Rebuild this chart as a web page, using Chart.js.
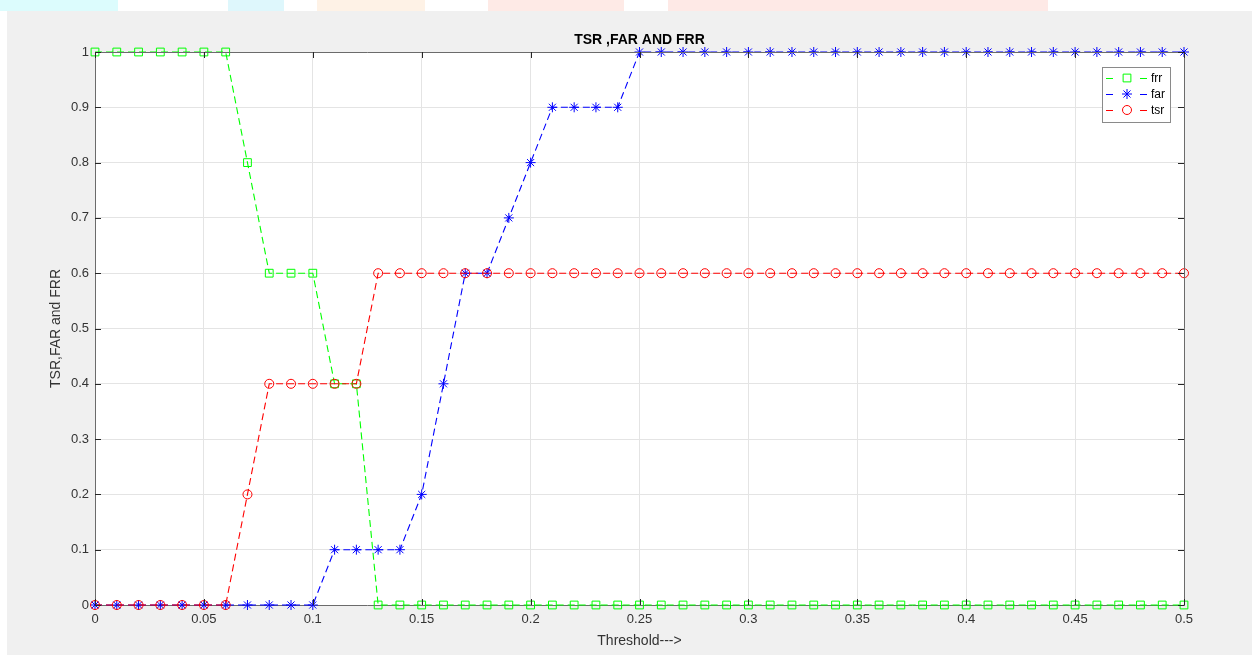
<!DOCTYPE html>
<html>
<head>
<meta charset="utf-8">
<script src="https://cdn.jsdelivr.net/npm/chart.js@4/dist/chart.umd.min.js"></script>
<style>
  html, body { margin: 0; padding: 0; background: #ffffff; }
  #wrap { position: relative; width: 1252px; height: 655px; overflow: hidden; }
  .tint { position: absolute; top: 0; height: 11px; }
  #panel { position: absolute; left: 7px; top: 11px; right: 0; bottom: 0; background: #f0f0f0; }
  canvas { position: absolute; left: 0; top: 0; }
</style>
</head>
<body>
<div id="wrap">
  <div class="tint" style="left:0;width:118px;background:#dcfcfd;"></div>
  <div class="tint" style="left:228px;width:56px;background:#def7fc;"></div>
  <div class="tint" style="left:317px;width:108px;background:#fef2e6;"></div>
  <div class="tint" style="left:488px;width:136px;background:#feeae6;"></div>
  <div class="tint" style="left:668px;width:380px;background:#fee9e6;"></div>
  <div id="panel"></div>
  <canvas id="c" width="1252" height="655"></canvas>
</div>
<script>
// Threshold values (x axis)
const thresholds = [0, 0.01, 0.02, 0.03, 0.04, 0.05, 0.06, 0.07, 0.08, 0.09,
  0.10, 0.11, 0.12, 0.13, 0.14, 0.15, 0.16, 0.17, 0.18, 0.19,
  0.20, 0.21, 0.22, 0.23, 0.24, 0.25, 0.26, 0.27, 0.28, 0.29,
  0.30, 0.31, 0.32, 0.33, 0.34, 0.35, 0.36, 0.37, 0.38, 0.39,
  0.40, 0.41, 0.42, 0.43, 0.44, 0.45, 0.46, 0.47, 0.48, 0.49, 0.50];

// False rejection rate
const frr = [1, 1, 1, 1, 1, 1, 1, 0.8, 0.6, 0.6,
  0.6, 0.4, 0.4, 0, 0, 0, 0, 0, 0, 0,
  0, 0, 0, 0, 0, 0, 0, 0, 0, 0,
  0, 0, 0, 0, 0, 0, 0, 0, 0, 0,
  0, 0, 0, 0, 0, 0, 0, 0, 0, 0, 0];

// False acceptance rate
const far = [0, 0, 0, 0, 0, 0, 0, 0, 0, 0,
  0, 0.1, 0.1, 0.1, 0.1, 0.2, 0.4, 0.6, 0.6, 0.7,
  0.8, 0.9, 0.9, 0.9, 0.9, 1, 1, 1, 1, 1,
  1, 1, 1, 1, 1, 1, 1, 1, 1, 1,
  1, 1, 1, 1, 1, 1, 1, 1, 1, 1, 1];

// True success rate
const tsr = [0, 0, 0, 0, 0, 0, 0, 0.2, 0.4, 0.4,
  0.4, 0.4, 0.4, 0.6, 0.6, 0.6, 0.6, 0.6, 0.6, 0.6,
  0.6, 0.6, 0.6, 0.6, 0.6, 0.6, 0.6, 0.6, 0.6, 0.6,
  0.6, 0.6, 0.6, 0.6, 0.6, 0.6, 0.6, 0.6, 0.6, 0.6,
  0.6, 0.6, 0.6, 0.6, 0.6, 0.6, 0.6, 0.6, 0.6, 0.6, 0.6];

const xTickStep = 0.05;
const yTickStep = 0.1;
const titleText = 'TSR ,FAR AND FRR';
const xTitle = 'Threshold--->';
const yTitle = 'TSR,FAR and FRR';
const seriesNames = ['frr', 'far', 'tsr'];

const FONT = "'Liberation Sans', Arial, Helvetica, sans-serif";
const AXIS_COLOR = '#6b6b6b';
const TEXT_COLOR = '#333333';

const toPoints = ys => thresholds.map((x, i) => ({ x: x, y: ys[i] }));

const styles = [
  { color: '#00ff00', pointStyle: 'rect', radius: 5.5 },
  { color: '#0000ff', pointStyle: 'star', radius: 5 },
  { color: '#ff0000', pointStyle: 'circle', radius: 4.5 }
];
const seriesData = [frr, far, tsr];

const datasets = seriesData.map((ys, i) => ({
  label: seriesNames[i],
  data: toPoints(ys),
  borderColor: styles[i].color,
  borderWidth: 1.1,
  borderDash: [7, 4],
  pointStyle: styles[i].pointStyle,
  pointRadius: styles[i].radius,
  pointHoverRadius: styles[i].radius,
  pointBorderColor: styles[i].color,
  pointBackgroundColor: 'rgba(0,0,0,0)',
  pointBorderWidth: 1,
  tension: 0,
  clip: false,
  order: 3 - i
}));

// White plot background
const plotBackground = {
  id: 'plotBackground',
  beforeDraw(chart) {
    const { ctx, chartArea: a } = chart;
    ctx.save();
    ctx.fillStyle = '#ffffff';
    ctx.fillRect(a.left, a.top, a.right - a.left, a.bottom - a.top);
    ctx.restore();
  }
};

// Box outline, inward tick marks, title and legend
const decorations = {
  id: 'decorations',
  afterDatasetsDraw(chart) {
    const { ctx, chartArea: a, scales } = chart;
    ctx.save();
    ctx.strokeStyle = AXIS_COLOR;
    ctx.lineWidth = 1;
    ctx.beginPath();
    ctx.moveTo(a.left, a.top + 0.5);
    ctx.lineTo(a.right + 0.5, a.top + 0.5);
    ctx.lineTo(a.right + 0.5, a.bottom);
    ctx.stroke();

    const tl = 6;
    ctx.beginPath();
    scales.x.ticks.forEach(t => {
      const px = Math.round(scales.x.getPixelForValue(t.value)) + 0.5;
      ctx.moveTo(px, a.bottom); ctx.lineTo(px, a.bottom - tl);
      ctx.moveTo(px, a.top); ctx.lineTo(px, a.top + tl);
    });
    scales.y.ticks.forEach(t => {
      const py = Math.round(scales.y.getPixelForValue(t.value)) + 0.5;
      ctx.moveTo(a.left, py); ctx.lineTo(a.left + tl, py);
      ctx.moveTo(a.right, py); ctx.lineTo(a.right - tl, py);
    });
    ctx.strokeStyle = '#262626';
    ctx.stroke();

    // title
    ctx.fillStyle = '#000000';
    ctx.font = 'bold 14px ' + FONT;
    ctx.textAlign = 'center';
    ctx.textBaseline = 'middle';
    ctx.fillText(titleText, (a.left + a.right) / 2, 40);

    // legend
    const bx = 1102, by = 67, bw = 68, bh = 55;
    ctx.fillStyle = '#ffffff';
    ctx.fillRect(bx, by, bw, bh);
    ctx.strokeStyle = '#8a8a8a';
    ctx.strokeRect(bx + 0.5, by + 0.5, bw, bh);
    ctx.font = '12px ' + FONT;
    ctx.textAlign = 'left';
    seriesNames.forEach((name, i) => {
      const y = 78 + i * 16;
      const s = styles[i];
      ctx.strokeStyle = s.color;
      ctx.lineWidth = 1;
      ctx.beginPath();
      ctx.moveTo(1106, y + 0.5); ctx.lineTo(1113, y + 0.5);
      ctx.moveTo(1140, y + 0.5); ctx.lineTo(1147, y + 0.5);
      ctx.stroke();
      ctx.fillStyle = 'rgba(0,0,0,0)';
      Chart.helpers.drawPoint(ctx, { pointStyle: s.pointStyle, radius: s.radius, borderWidth: 1 }, 1127, y);
      ctx.fillStyle = '#000000';
      ctx.fillText(name, 1151, y + 1);
    });
    ctx.restore();
  }
};

new Chart(document.getElementById('c'), {
  type: 'line',
  data: { datasets },
  options: {
    responsive: false,
    animation: false,
    layout: { padding: { top: 52, right: 68, left: 0, bottom: 0 } },
    plugins: { legend: { display: false }, title: { display: false }, tooltip: { enabled: false } },
    scales: {
      x: {
        type: 'linear',
        min: 0,
        max: 0.5,
        afterFit(s) { s.height = 50; },
        ticks: {
          stepSize: xTickStep,
          padding: 7,
          color: TEXT_COLOR,
          font: { family: FONT, size: 13 },
          maxRotation: 0,
          callback: v => String(+v.toFixed(2))
        },
        grid: { color: '#e4e4e4', drawTicks: false, lineWidth: 1 },
        border: { color: AXIS_COLOR, width: 1 },
        title: {
          display: true,
          text: xTitle,
          color: TEXT_COLOR,
          font: { family: FONT, size: 14 },
          padding: { top: 0, bottom: 5 }
        }
      },
      y: {
        min: 0,
        max: 1,
        afterFit(s) { s.width = 95; },
        ticks: {
          stepSize: yTickStep,
          padding: 6,
          color: TEXT_COLOR,
          font: { family: FONT, size: 13 },
          callback: v => String(+v.toFixed(1))
        },
        grid: { color: '#e4e4e4', drawTicks: false, lineWidth: 1 },
        border: { color: AXIS_COLOR, width: 1 },
        title: {
          display: true,
          text: yTitle,
          color: TEXT_COLOR,
          font: { family: FONT, size: 14 },
          padding: { top: 48, bottom: 0 }
        }
      }
    }
  },
  plugins: [plotBackground, decorations]
});
</script>
</body>
</html>
